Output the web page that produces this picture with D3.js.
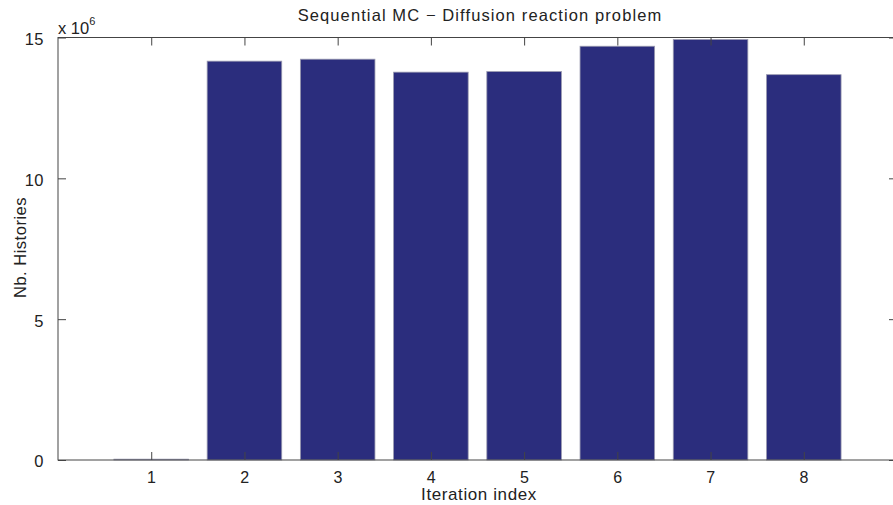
<!DOCTYPE html>
<html>
<head>
<meta charset="utf-8">
<script src="https://cdn.jsdelivr.net/npm/d3@7"></script>
<style>
  html, body { margin: 0; padding: 0; background: #fff; }
  svg { display: block; font-family: "Liberation Sans", Arial, sans-serif; }
</style>
</head>
<body>
<svg id="chart" width="893" height="505"></svg>
<script>
const categories = [1, 2, 3, 4, 5, 6, 7, 8];
const histories = [0.03, 14.16, 14.23, 13.77, 13.79, 14.69, 14.93, 13.68]; // x 10^6
const yTicks = [0, 5, 10, 15];
const title = "Sequential MC \u2212 Diffusion reaction problem";
const xLabel = "Iteration index";
const yLabel = "Nb. Histories";

const svg = d3.select("#chart");
const plotL = 58, plotR = 897, plotT = 37.5, plotB = 460;

const x = d3.scaleLinear().domain([0, 9]).range([plotL, plotR]);
const y = d3.scaleLinear().domain([0, 15]).range([plotB, plotT]);
const barW = (x(1) - x(0)) * 0.8;

svg.append("g").selectAll("rect").data(categories).join("rect")
  .attr("x", d => x(d) - barW / 2)
  .attr("y", (d, i) => y(histories[i]))
  .attr("width", barW)
  .attr("height", (d, i) => y(0) - y(histories[i]))
  .attr("fill", "#2b2d7d")
  .attr("stroke", "#9a9ab0")
  .attr("stroke-width", 0.8);

const axisColor = "#444";
const tickLen = 8;

svg.append("rect").attr("x", plotL).attr("y", plotT)
  .attr("width", plotR - plotL).attr("height", plotB - plotT)
  .attr("fill", "none").attr("stroke", axisColor).attr("stroke-width", 1);

const gx = svg.append("g").attr("transform", `translate(0,${plotB})`)
  .call(d3.axisBottom(x).tickValues(categories).tickSize(-tickLen).tickPadding(tickLen + 5).tickFormat(d3.format("d")));
const gxTop = svg.append("g").attr("transform", `translate(0,${plotT})`)
  .call(d3.axisTop(x).tickValues(categories).tickSize(-tickLen).tickFormat(""));
const gy = svg.append("g").attr("transform", `translate(${plotL},0)`)
  .call(d3.axisLeft(y).tickValues(yTicks).tickSize(-tickLen).tickPadding(tickLen + 6).tickFormat(d3.format("d")));
const gyR = svg.append("g").attr("transform", `translate(${plotR},0)`)
  .call(d3.axisRight(y).tickValues(yTicks).tickSize(-tickLen).tickFormat(""));

[gx, gxTop, gy, gyR].forEach(g => {
  g.select(".domain").remove();
  g.selectAll(".tick line").attr("stroke", axisColor);
  g.selectAll(".tick text").attr("fill", "#222").attr("font-size", 16.5)
    .attr("letter-spacing", "0.5px")
    .attr("font-family", "'Liberation Sans', Arial, sans-serif");
});
gy.selectAll(".tick text").attr("dy", "0.42em");
gx.selectAll(".tick text").attr("font-size", 16).attr("dy", "0.62em");

const ex = svg.append("text").attr("x", plotL).attr("y", 33.5)
  .attr("font-size", 16.5).attr("fill", "#222");
ex.append("tspan").text("x 10");
ex.append("tspan").attr("dy", -9).attr("font-size", 11).text("6");

svg.append("text").attr("x", 480).attr("y", 21)
  .attr("text-anchor", "middle").attr("font-size", 16.5).attr("letter-spacing", "1.1px")
  .attr("fill", "#222").text(title);

svg.append("text").attr("x", 479).attr("y", 500)
  .attr("text-anchor", "middle").attr("font-size", 17).attr("letter-spacing", "0.6px")
  .attr("fill", "#222").text(xLabel);

svg.append("text").attr("transform", `translate(26,247.5) rotate(-90)`)
  .attr("text-anchor", "middle").attr("font-size", 16.5).attr("letter-spacing", "0.5px")
  .attr("fill", "#222").text(yLabel);
</script>
</body>
</html>
